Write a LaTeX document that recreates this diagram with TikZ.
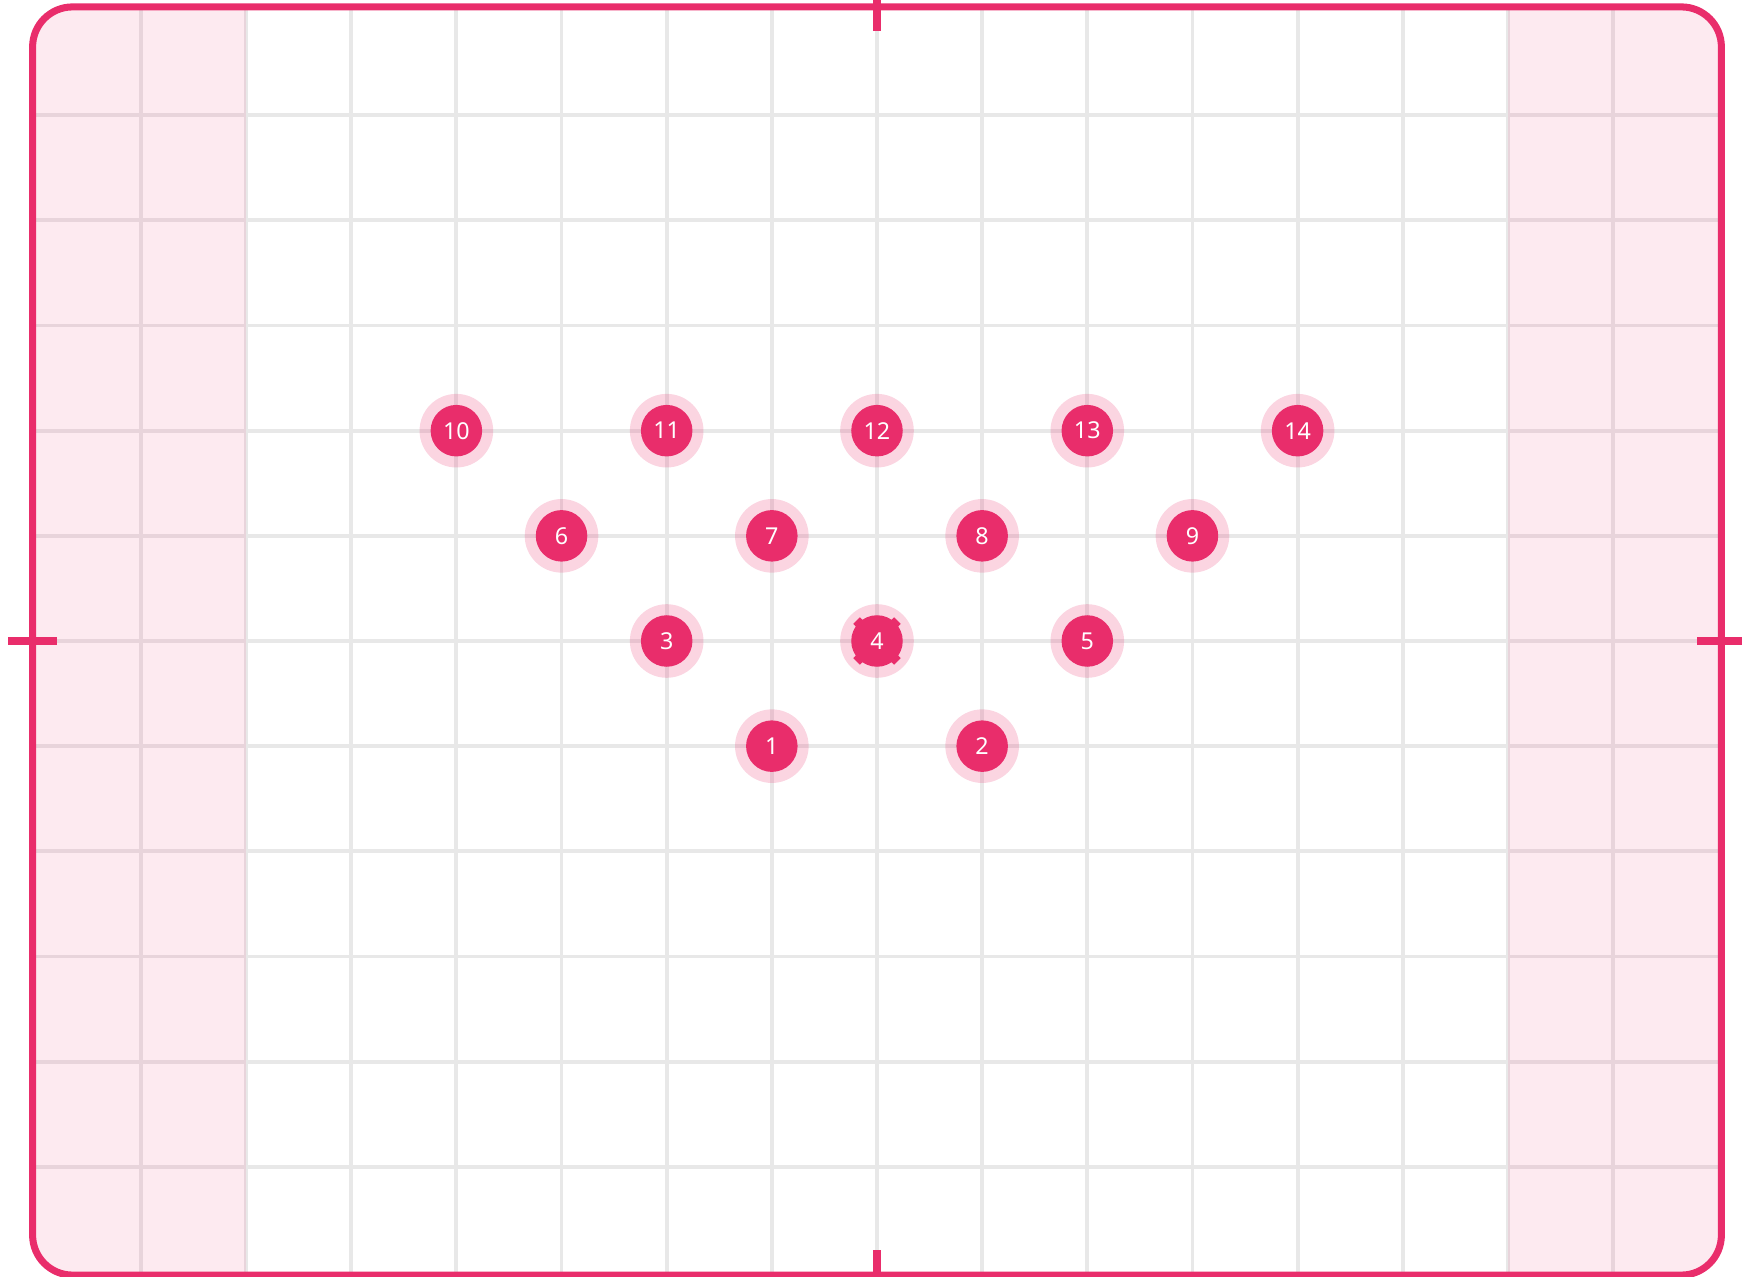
\documentclass[tikz,border=0pt]{standalone}
\usepackage{fontspec}
\setsansfont{Noto Sans}
\usetikzlibrary{calc}
\definecolor{c1}{HTML}{E92D6B}
\definecolor{c2}{HTML}{E8E8E8}
\definecolor{c3}{HTML}{FFFFFF}

\begin{document}
\begin{tikzpicture}[
    every node/.style={font=\sffamily},
    gridline/.style={c2, line width=1.05pt},
    band/.style={fill=c1, fill opacity=0.10},
    frame/.style={draw=c1, line width=1.9pt, rounded corners=0.38cm},
    tickbar/.style={c1, line width=2.1pt},
    halo/.style={circle, fill=c1, fill opacity=0.2, minimum size=0.70cm, inner sep=0pt},
    keypt/.style={circle, fill=c1, minimum size=0.49cm, inner sep=0pt,
                  text=c3, font=\sffamily\fontsize{6.3}{7}\selectfont},
]
\useasboundingbox (-0.340, -0.039) rectangle (16.226, 12.096);

% ---------------------------------------------------------------- the grid
\begin{scope}
\clip[rounded corners=0.38cm] (-0.03, -0.03) rectangle (16.03, 12.03);
\foreach \x in {1,...,15}{
    \draw[gridline] (\x, -0.03) -- (\x, 12.03);
}
\foreach \y in {1,...,11}{
    \draw[gridline] (-0.03, \y) -- (16.03, \y);
}
% side bands
\fill[band] (-0.03, -0.03) rectangle (2, 12.03);
\fill[band] (14, -0.03) rectangle (16.03, 12.03);
\end{scope}

% ---------------------------------------------------------------- the frame
\draw[frame] (-0.03, -0.03) rectangle (16.03, 12.03);
\draw[tickbar] (-0.26, 6) -- (0.20, 6);
\draw[tickbar] (15.80, 6) -- (16.226, 6);
\draw[tickbar] (8, 12.096) -- (8, 11.80);
\draw[tickbar] (8, -0.039) -- (8, 0.21);

% ---------------------------------------------------------------- the points
\foreach \n/\x/\y in {1/7/5, 2/9/5, 3/6/6, 4/8/6, 5/10/6,
                      6/5/7, 7/7/7, 8/9/7, 9/11/7,
                      10/4/8, 11/6/8, 12/8/8, 13/10/8, 14/12/8}{
    \node[halo] (h\n) at (\x, \y) {};
    \node[keypt] (p\n) at (\x, \y) {\n};
}

% selection marks on point 4
\foreach \a in {45, 135, 225, 315}{
    \draw[c1, line width=1.1pt]
        ($(p4.center) + (\a:0.255) + (\a+90:0.045)$) -- ($(p4.center) + (\a:0.255) + (\a-90:0.045)$);
}
\end{tikzpicture}
\end{document}
